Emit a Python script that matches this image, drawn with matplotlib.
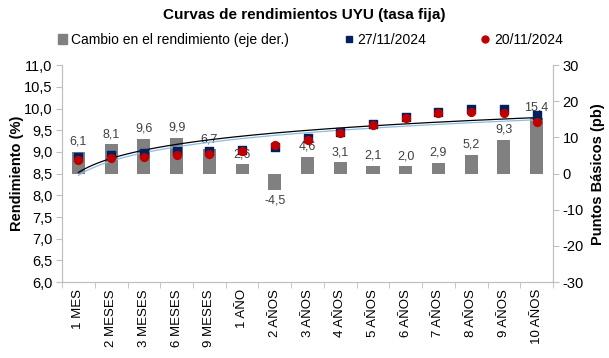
import numpy as np
import matplotlib.pyplot as plt
from matplotlib.lines import Line2D
from matplotlib.patches import Patch

plt.rcParams['font.family'] = ['Liberation Sans', 'DejaVu Sans']
plt.rcParams['axes.unicode_minus'] = False

plazos = ['1 MES', '2 MESES', '3 MESES', '6 MESES', '9 MESES', '1 AÑO',
          '2 AÑOS', '3 AÑOS', '4 AÑOS', '5 AÑOS', '6 AÑOS', '7 AÑOS',
          '8 AÑOS', '9 AÑOS', '10 AÑOS']
tasa_27nov = [8.88, 8.94, 8.97, 9.03, 9.02, 9.04, 9.11, 9.31, 9.47,
              9.64, 9.80, 9.92, 9.98, 9.99, 9.84]
cambio_pb = [6.1, 8.1, 9.6, 9.9, 6.7, 2.6, -4.5, 4.6, 3.1, 2.1, 2.0,
             2.9, 5.2, 9.3, 15.4]
tasa_20nov = [a - c / 100 for a, c in zip(tasa_27nov, cambio_pb)]

x = np.arange(len(plazos))
grey = '#808080'
axis_col = '#bfbfbf'

fig = plt.figure(figsize=(6.09, 3.58), dpi=100)
ax = fig.add_axes([0.102, 0.212, 0.806, 0.606])
ax2 = ax.twinx()

# bars on the right axis, drawn underneath the yields
ax.set_zorder(2)
ax.patch.set_visible(False)
ax2.bar(x, cambio_pb, width=0.4, color=grey, zorder=1)
for xi, v in zip(x, cambio_pb):
    lbl = f'{v:.1f}'.replace('.', ',')
    if v >= 0:
        ax2.annotate(lbl, (xi, v), xytext=(0, 3), textcoords='offset points',
                     ha='center', va='bottom', fontsize=9, color='#404040')
    else:
        ax2.annotate(lbl, (xi, v), xytext=(0, -3), textcoords='offset points',
                     ha='center', va='top', fontsize=9, color='#404040')

# logarithmic trend lines (Excel style)
xs = np.linspace(1, len(plazos), 200)
for serie, col in [(tasa_20nov, '#8dbbe3'), (tasa_27nov, 'black')]:
    a, b = np.polyfit(np.log(np.arange(1, len(plazos) + 1)), serie, 1)
    ax.plot(xs - 1, a * np.log(xs) + b, color=col, lw=0.9, zorder=3)

ax.scatter(x, tasa_27nov, marker='s', s=30, color='#002060', zorder=4)
ax.scatter(x, tasa_20nov, marker='o', s=32, color='#c00000', zorder=5)

ax.set_xlim(-0.5, len(plazos) - 0.5)
ax.set_ylim(6.0, 11.0)
ax.set_yticks(np.arange(6.0, 11.01, 0.5))
ax.set_yticklabels([f'{v:.1f}'.replace('.', ',') for v in np.arange(6.0, 11.01, 0.5)])
ax2.set_ylim(-30, 30)
ax2.set_yticks(np.arange(-30, 31, 10))

ax.set_xticks(x)
ax.set_xticklabels(plazos, rotation=90, fontsize=9.5)
ax.set_xticks(np.arange(-0.5, len(plazos), 1), minor=True)
ax.tick_params(axis='x', which='major', length=0, pad=5)
ax.tick_params(axis='x', which='minor', length=4, color=axis_col)
ax.tick_params(axis='y', labelsize=10.5, length=4, color=axis_col, pad=3)
ax2.tick_params(axis='y', labelsize=10.5, length=4, color=axis_col, pad=3)

for a_ in (ax, ax2):
    a_.spines['top'].set_visible(False)
    for s in ('left', 'right', 'bottom'):
        a_.spines[s].set_color(axis_col)

ax.set_ylabel('Rendimiento (%)', fontsize=10.5, fontweight='bold', labelpad=0)
ax2.set_ylabel('Puntos Básicos (pb)', fontsize=10.5, fontweight='bold', labelpad=5)

fig.text(0.5, 0.958, 'Curvas de rendimientos UYU (tasa fija)', ha='center',
         va='center', fontsize=11, fontweight='bold')

handles = [Patch(color=grey),
           Line2D([], [], marker='s', ls='', color='#002060', markersize=5),
           Line2D([], [], marker='o', ls='', color='#c00000', markersize=5)]
labels = ['Cambio en el rendimiento (eje der.)', '27/11/2024', '20/11/2024']
fig.legend(handles, labels, loc='center', bbox_to_anchor=(0.51, 0.888), ncol=3,
           frameon=False, fontsize=10, handlelength=0.6, handletextpad=0.3,
           columnspacing=4.0)

fig.savefig('out.png', dpi=100)
